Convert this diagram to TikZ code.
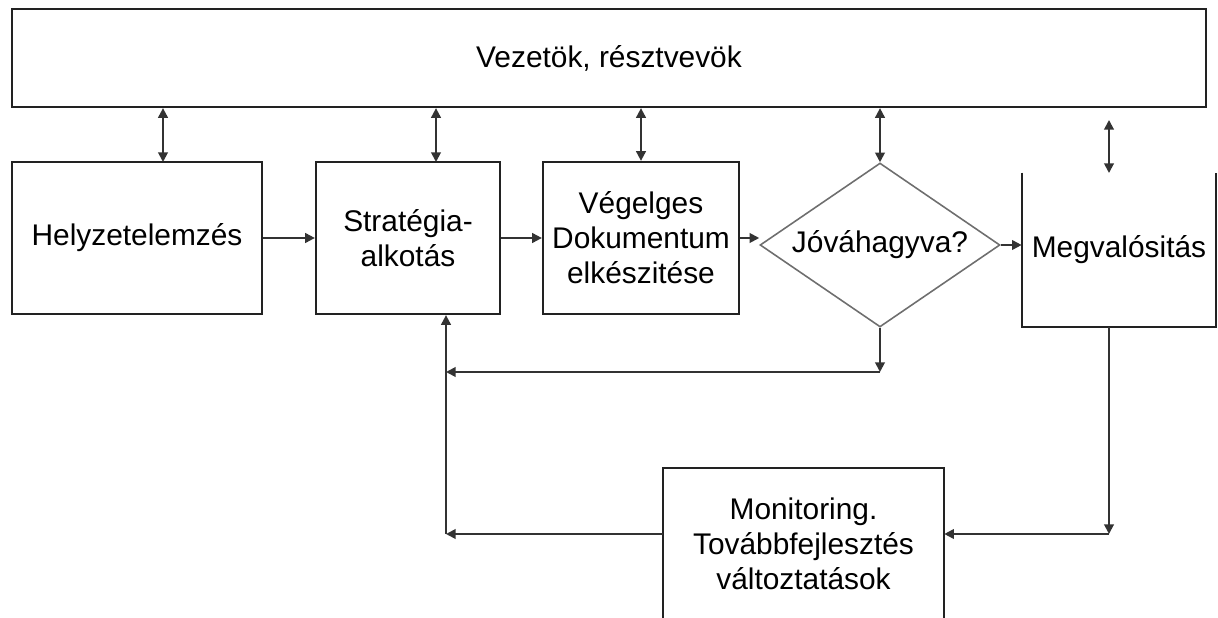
\documentclass[tikz,border=0pt]{standalone}
\usepackage{fontspec}
\setmainfont{Liberation Sans}
\usepackage{tikz}
\usetikzlibrary{arrows.meta,shapes.geometric}

\definecolor{boxline}{HTML}{222222}
\definecolor{dialine}{HTML}{6E6E6E}
\definecolor{arrline}{HTML}{333333}

\tikzset{
  blk/.style={draw=boxline,line width=1.3pt,align=center,inner sep=0pt},
  openblk/.style={align=center,inner sep=0pt},
  dec/.style={diamond,draw=dialine,line width=0.9pt,aspect=1.46,inner sep=0pt,
    minimum width=4.8cm,minimum height=3.28cm},
  arr/.style={draw=arrline,line width=1.1pt,-{Triangle[length=5.5pt,width=5.5pt]}},
  dbl/.style={draw=arrline,line width=1.1pt,
    {Triangle[length=5.5pt,width=5.5pt]}-{Triangle[length=5.5pt,width=5.5pt]}}
}

\begin{document}
\begin{tikzpicture}[x=0.02cm,y=-0.02cm,font=\fontsize{17}{20}\selectfont]
		\useasboundingbox (0,0) rectangle (1218,618);
		\node[blk,minimum width=23.88cm,minimum height=1.96cm] (top) at (609,58) {Vezetök, résztvevök};
		\node[blk,minimum width=5cm,minimum height=3.04cm] (H) at (137,238) {Helyzetelemzés};
		\node[blk,minimum width=3.68cm,minimum height=3.04cm] (S) at (408,238) {Stratégia-\\alkotás};
		\node[blk,minimum width=3.92cm,minimum height=3.04cm] (V) at (641,238) {Végelges\\Dokumentum\\elkészitése};
		\node[dec] (D) at (880,245) {Jóváhagyva?};
		\node[openblk,minimum width=3.88cm,minimum height=3.08cm] (M) at (1119,250) {Megvalósitás};
		\node[openblk,minimum width=5.62cm,minimum height=3.04cm] (mon) at (803.5,544) {Monitoring.\\Továbbfejlesztés\\változtatások};
		%
		\draw[boxline,line width=1.3pt] (M.north west) -- (M.south west) -- (M.south east) -- (M.north east);
		\draw[boxline,line width=1.3pt] (mon.south west) -- (mon.north west) -- (mon.north east) -- (mon.south east);
		%
		\coordinate (hup) at (163,162);
		\coordinate (sup1) at (436,162);
		\coordinate (mup) at (1109,173);
		\coordinate (mtop) at (1109,120);
		\coordinate (mdown) at (1109,327);
		\coordinate (dturn) at (880,372);
		\coordinate (fb) at (446,372);
		\coordinate (mturn) at (1109,534);
		\coordinate (sturn) at (446,534);
		%
		\draw[arr] (H.east) -- (S.west);
		\draw[arr] (S.east) -- (V.west);
		\draw[arr] (V.east) -- (V.east -| D.west);
		\draw[arr] (D.east) -- (D.east -| M.west);
		%
		\draw[dbl] (hup) -- (hup |- top.south);
		\draw[dbl] (sup1) -- (sup1 |- top.south);
		\draw[dbl] (V.north) -- (V.north |- top.south);
		\draw[dbl] (D.north) -- (D.north |- top.south);
		\draw[dbl] (mup) -- (mtop);
		%
		\draw[arr] (D.south) -- (dturn);
		\draw[arr] (dturn) -- (fb);
		\draw[arr] (mdown) -- (mturn);
		\draw[arr] (mturn) -- (mturn -| mon.east);
		\draw[arr] (mturn -| mon.west) -- (sturn);
		\draw[arr] (sturn) -- (sturn |- S.south);
		\end{tikzpicture}
\end{document}
